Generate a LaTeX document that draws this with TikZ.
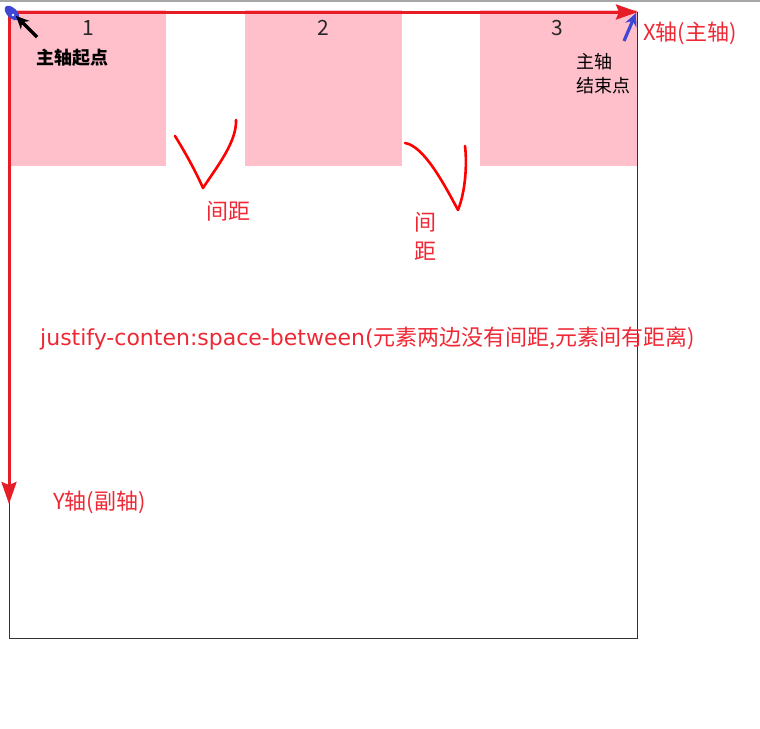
\documentclass[tikz,border=0pt]{standalone}
\usepackage{fontspec}
\setmainfont{Noto Sans CJK SC}
\newfontfamily\latinfont{DejaVu Sans}
\usetikzlibrary{positioning,calc,arrows.meta}
\definecolor{axisred}{RGB}{230,28,38}
\definecolor{textred}{RGB}{238,40,52}
\definecolor{itempink}{RGB}{255,192,203}
\definecolor{markblue}{RGB}{62,70,214}

\begin{document}
\begin{tikzpicture}[x=1pt, y=-1pt,
    item/.style={fill=itempink, draw=none, inner sep=0pt, anchor=north west,
      minimum width=157pt, minimum height=156pt},
    num/.style={font=\fontsize{21}{24}\selectfont, text=black!85, inner sep=0pt},
    redtext/.style={font=\fontsize{22}{26}\selectfont, text=textred, inner sep=0pt},
    axis/.style={draw=axisred, line width=3pt, -{Stealth[length=22pt, width=15pt, inset=3pt]}},
    pointer/.style={line width=3.2pt, -{Stealth[length=13pt, width=12pt]}},
    tickmark/.style={draw=red, line width=2.6pt, line cap=round, line join=round}]
    \useasboundingbox (0,0) rectangle (760,728);

    % window edge and flex container
    \draw[gray!70, line width=1.5pt] (0,1) -- (760,1);
    \draw[black!80, line width=1pt] (9,12) rectangle (637,638);

    % flex items
    \node[item] (item1) at (9,10) {};
    \node[item] (item2) at (245,10) {};
    \node[item] (item3) at (480,10) {};
    \draw[black!80, line width=1pt] (637,12) -- (637,638);
    \node[num] (num1) at (88,28) {1};
    \node[num] (num2) at (323,28) {2};
    \node[num] (num3) at (557,28) {3};

    % main axis and cross axis
    \coordinate (origin) at (9,12);
    \coordinate (xend) at (638,12);
    \coordinate (yend) at (9,504);
    \draw[axis] (origin) -- (xend);
    \draw[axis] (origin) -- (yend);
    \node[redtext, anchor=west] (xlabel) at (643,33) {X轴(主轴)};
    \node[redtext, anchor=west] (ylabel) at (53,502) {Y轴(副轴)};

    % start point
    \fill[markblue, rotate around={-45:(12,13)}] (12,13) ellipse [x radius=9pt, y radius=5pt];
    \fill[white] (13,15) circle (1.3pt);
    \coordinate (starttail) at (37,37);
    \coordinate (starttip) at (16,16);
    \draw[pointer, black] (starttail) -- (starttip);
    \node[font=\bfseries\fontsize{18}{21}\selectfont, inner sep=0pt] (startlabel) at (72,58) {主轴起点};

    % end point
    \coordinate (endtail) at (624,41);
    \coordinate (endtip) at (636,13);
    \draw[pointer, markblue] (endtail) -- (endtip);
    \node[font=\fontsize{18}{24}\selectfont, align=left, inner sep=0pt, anchor=north west] (endlabel) at (576,53) {主轴\\结束点};

    % gaps
    \draw[tickmark] (175,136) .. controls (185,152) and (196,172) .. (203,188)
      .. controls (216,168) and (237,142) .. (236,120);
    \node[redtext] (gap1) at (228,211) {间距};
    \draw[tickmark] (405,143) .. controls (424,146) and (444,184) .. (458,210)
      .. controls (466,190) and (467,162) .. (465,146);
    \node[redtext, align=center, font=\fontsize{22}{29}\selectfont] (gap2) at (425,236) {间\\距};

    % note
    \node[redtext, anchor=west] (note) at (40,338) {{\latinfont\fontsize{22}{26}\selectfont justify-conten:space-between(}元素两边没有间距,元素间有距离)};
\end{tikzpicture}
\end{document}
